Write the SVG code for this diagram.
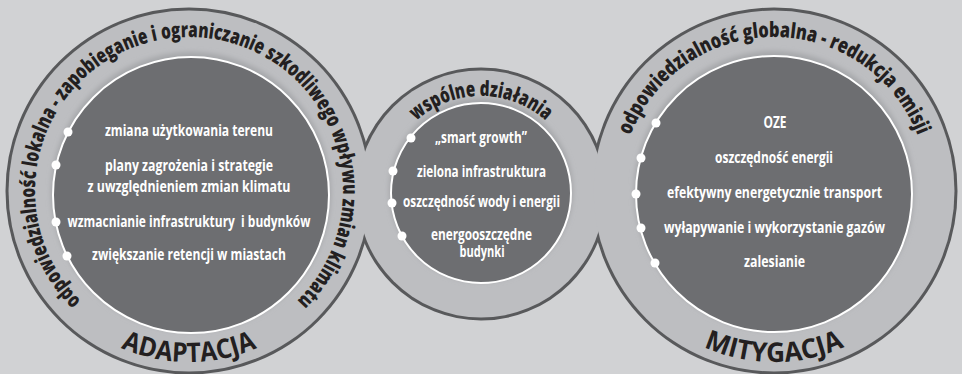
<svg xmlns="http://www.w3.org/2000/svg" width="962" height="374" viewBox="0 0 962 374">
<defs>
<style>
.ringline{fill:none;stroke:#58595b;stroke-width:6}
.ringfill{fill:#bdbec1}
.shadow{fill:#a6a7aa;filter:url(#blur)}
.inner{fill:#6d6e71;stroke:#ffffff;stroke-width:2}
.dot{fill:#ffffff}
.ring-t{font-family:"Open Sans","DejaVu Sans",sans-serif;font-weight:800;font-size:21px;fill:#231f20;text-anchor:middle}
.big-t{font-family:"Open Sans","DejaVu Sans",sans-serif;font-weight:700;font-size:27px;fill:#231f20;text-anchor:middle}
.in-t{font-family:"Open Sans","DejaVu Sans",sans-serif;font-weight:700;font-size:15.5px;fill:#ffffff;text-anchor:middle}
</style>
<filter id="blur" x="-20%" y="-20%" width="140%" height="140%"><feGaussianBlur stdDeviation="2.5"/></filter>
<path id="pL" d="M189,345 A154,154 0 0 1 189,37 A154,154 0 0 1 189,345"/>
<path id="pM" d="M481,290 A97,97 0 0 1 481,96 A97,97 0 0 1 481,290"/>
<path id="pR" d="M774,345 A154,154 0 0 1 774,37 A154,154 0 0 1 774,345"/>
<path id="bL" d="M40.9,276.5 A171,171 0 0 0 337.1,276.5"/>
<path id="bR" d="M625.9,276.5 A171,171 0 0 0 922.1,276.5"/>
</defs>
<rect x="0" y="0" width="962" height="374" fill="#d1d2d4"/>
<g id="rings">
<circle class="ringline" cx="189" cy="191" r="180.5"/>
<circle class="ringline" cx="481" cy="194" r="123.5"/>
<circle class="ringline" cx="774" cy="191" r="180.5"/>
<circle class="ringfill" cx="189" cy="191" r="180.5"/>
<circle class="ringfill" cx="481" cy="194" r="123.5"/>
<circle class="ringfill" cx="774" cy="191" r="180.5"/>
</g>
<g id="adaptacja">
<circle class="shadow" cx="191" cy="192" r="140"/>
<circle class="inner" cx="191" cy="195" r="138"/>
<circle class="dot" cx="68" cy="132" r="4.5"/>
<circle class="dot" cx="56" cy="165" r="4.5"/>
<circle class="dot" cx="56" cy="222" r="4.5"/>
<circle class="dot" cx="67" cy="256" r="4.5"/>
<text class="ring-t"><textPath href="#pL" startOffset="50%" textLength="728" lengthAdjust="spacingAndGlyphs">odpowiedzialność lokalna - zapobieganie i ograniczanie szkodliwego wpływu zmian klimatu</textPath></text>
<text class="big-t"><textPath href="#bL" startOffset="50%" textLength="140" lengthAdjust="spacingAndGlyphs">ADAPTACJA</textPath></text>
<text class="in-t" x="189" y="136" textLength="168" lengthAdjust="spacingAndGlyphs">zmiana użytkowania terenu</text>
<text class="in-t" x="189" y="171" textLength="168" lengthAdjust="spacingAndGlyphs">plany zagrożenia i strategie</text>
<text class="in-t" x="189" y="192" textLength="203" lengthAdjust="spacingAndGlyphs">z uwzględnieniem zmian klimatu</text>
<text class="in-t" x="189" y="227" textLength="243" lengthAdjust="spacingAndGlyphs" xml:space="preserve">wzmacnianie infrastruktury  i budynków</text>
<text class="in-t" x="189" y="260" textLength="194" lengthAdjust="spacingAndGlyphs">zwiększanie retencji w miastach</text>
</g>
<g id="wspolne">
<circle class="shadow" cx="481" cy="190" r="92"/>
<circle class="inner" cx="481" cy="193" r="90"/>
<circle class="dot" cx="411" cy="138" r="4.5"/>
<circle class="dot" cx="393" cy="171" r="4.5"/>
<circle class="dot" cx="392" cy="203" r="4.5"/>
<circle class="dot" cx="402" cy="236" r="4.5"/>
<text class="ring-t"><textPath href="#pM" startOffset="50%" textLength="142" lengthAdjust="spacingAndGlyphs">wspólne działania</textPath></text>
<text class="in-t" x="481" y="143" textLength="92" lengthAdjust="spacingAndGlyphs">„smart growth”</text>
<text class="in-t" x="481.5" y="177" textLength="129" lengthAdjust="spacingAndGlyphs">zielona infrastruktura</text>
<text class="in-t" x="481.5" y="207" textLength="157" lengthAdjust="spacingAndGlyphs">oszczędność wody i energii</text>
<text class="in-t" x="481.5" y="240" textLength="101" lengthAdjust="spacingAndGlyphs">energooszczędne</text>
<text class="in-t" x="482" y="257" textLength="45" lengthAdjust="spacingAndGlyphs">budynki</text>
</g>
<g id="mitygacja">
<circle class="shadow" cx="774" cy="191" r="140"/>
<circle class="inner" cx="774" cy="194" r="138"/>
<circle class="dot" cx="656" cy="123" r="4.5"/>
<circle class="dot" cx="641" cy="158" r="4.5"/>
<circle class="dot" cx="636" cy="194" r="4.5"/>
<circle class="dot" cx="641" cy="228" r="4.5"/>
<circle class="dot" cx="655" cy="263" r="4.5"/>
<text class="ring-t"><textPath href="#pR" startOffset="50%" textLength="370" lengthAdjust="spacingAndGlyphs">odpowiedzialność globalna - redukcja emisji</textPath></text>
<text class="big-t"><textPath href="#bR" startOffset="50%" textLength="145" lengthAdjust="spacingAndGlyphs">MITYGACJA</textPath></text>
<text class="in-t" x="775" y="128" textLength="23" lengthAdjust="spacingAndGlyphs">OZE</text>
<text class="in-t" x="774" y="163" textLength="118" lengthAdjust="spacingAndGlyphs">oszczędność energii</text>
<text class="in-t" x="774.5" y="198" textLength="215" lengthAdjust="spacingAndGlyphs">efektywny energetycznie transport</text>
<text class="in-t" x="774.5" y="233" textLength="221" lengthAdjust="spacingAndGlyphs">wyłapywanie i wykorzystanie gazów</text>
<text class="in-t" x="774.5" y="267" textLength="61" lengthAdjust="spacingAndGlyphs">zalesianie</text>
</g>
</svg>
